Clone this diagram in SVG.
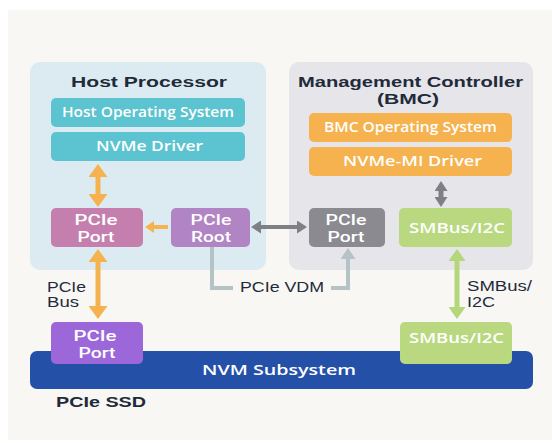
<svg xmlns="http://www.w3.org/2000/svg" width="552" height="443" viewBox="0 0 552 443">
  <defs>
    <style>
      text { font-family: "Liberation Sans", Arial, sans-serif; }
      .title { font-size: 14.5px; font-weight: bold; fill: #1f2b3a; }
      .lbl { font-family: "Open Sans", "Liberation Sans", Arial, sans-serif; font-size: 13.5px; font-weight: 600; fill: #ffffff; }
      .plbl { font-family: Roboto, "Liberation Sans", Arial, sans-serif; font-size: 14.5px; font-weight: 500; fill: #ffffff; }
      .note { font-size: 14px; fill: #1f2b3a; }
      .panel { rx: 10px; }
      .box { rx: 5px; }
    </style>
    <marker id="hOrange" viewBox="0 0 13 19" markerWidth="13" markerHeight="19" refX="2" refY="9.5" markerUnits="userSpaceOnUse" orient="auto-start-reverse">
      <path d="M0,0 L13,9.5 L0,19 z" fill="#f5b24e"/>
    </marker>
    <marker id="hOrangeS" viewBox="0 0 9 12" markerWidth="9" markerHeight="12" refX="2" refY="6" markerUnits="userSpaceOnUse" orient="auto-start-reverse">
      <path d="M0,0 L9,6 L0,12 z" fill="#f5b24e"/>
    </marker>
    <marker id="hGray" viewBox="0 0 10 13" markerWidth="10" markerHeight="13" refX="2" refY="6.5" markerUnits="userSpaceOnUse" orient="auto-start-reverse">
      <path d="M0,0 L10,6.5 L0,13 z" fill="#7f7f86"/>
    </marker>
    <marker id="hVdm" viewBox="0 0 11 15" markerWidth="11" markerHeight="15" refX="2" refY="7.5" markerUnits="userSpaceOnUse" orient="auto">
      <path d="M0,0 L11,7.5 L0,15 z" fill="#b5c2c6"/>
    </marker>
    <marker id="hGreen" viewBox="0 0 12 17" markerWidth="12" markerHeight="17" refX="2" refY="8.5" markerUnits="userSpaceOnUse" orient="auto-start-reverse">
      <path d="M0,0 L12,8.5 L0,17 z" fill="#b3d77a"/>
    </marker>
  </defs>

  <!-- canvas -->
  <rect x="0" y="0" width="552" height="443" fill="#ffffff"/>
  <rect x="8" y="10" width="544" height="430" fill="#f8f7f3"/>

  <!-- host processor panel -->
  <g id="host-processor">
    <rect class="panel" x="30" y="62" width="236" height="208" fill="#dcebf2"/>
    <text class="title" x="149" y="87" text-anchor="middle" textLength="156" lengthAdjust="spacingAndGlyphs">Host Processor</text>
  </g>

  <!-- management controller panel -->
  <g id="management-controller">
    <rect class="panel" x="289" y="62" width="244" height="208" fill="#e5e5ea"/>
    <text class="title" x="410.5" y="87" text-anchor="middle" textLength="225" lengthAdjust="spacingAndGlyphs">Management Controller</text>
    <text class="title" x="408" y="104" text-anchor="middle" textLength="62" lengthAdjust="spacingAndGlyphs">(BMC)</text>
  </g>

  <g id="host-os">
    <rect class="box" x="51" y="98" width="194" height="29" fill="#5cc3d0"/>
    <text class="lbl" x="148" y="117" text-anchor="middle" textLength="172" lengthAdjust="spacingAndGlyphs">Host Operating System</text>
  </g>
  <g id="nvme-driver">
    <rect class="box" x="51" y="132" width="194" height="29" fill="#5cc3d0"/>
    <text class="lbl" x="149.5" y="151" text-anchor="middle" textLength="107" lengthAdjust="spacingAndGlyphs">NVMe Driver</text>
  </g>

  <g id="bmc-os">
    <rect class="box" x="309" y="113" width="203" height="29" fill="#f5b24e"/>
    <text class="lbl" x="410.5" y="132" text-anchor="middle" textLength="173" lengthAdjust="spacingAndGlyphs">BMC Operating System</text>
  </g>
  <g id="nvme-mi-driver">
    <rect class="box" x="309" y="147" width="203" height="29" fill="#f5b24e"/>
    <text class="lbl" x="412.5" y="166" text-anchor="middle" textLength="139" lengthAdjust="spacingAndGlyphs">NVMe-MI Driver</text>
  </g>

  <g id="host-pcie-port">
    <rect class="box" x="51" y="208" width="92" height="39" fill="#c47fae"/>
    <text class="plbl" x="96" y="225" text-anchor="middle" textLength="43" lengthAdjust="spacingAndGlyphs">PCIe</text>
    <text class="plbl" x="96" y="242" text-anchor="middle" textLength="37" lengthAdjust="spacingAndGlyphs">Port</text>
  </g>
  <g id="pcie-root">
    <rect class="box" x="171" y="208" width="79" height="39" fill="#b184c4"/>
    <text class="plbl" x="211" y="225" text-anchor="middle" textLength="41" lengthAdjust="spacingAndGlyphs">PCIe</text>
    <text class="plbl" x="211" y="242" text-anchor="middle" textLength="40" lengthAdjust="spacingAndGlyphs">Root</text>
  </g>
  <g id="bmc-pcie-port">
    <rect class="box" x="309" y="208" width="76" height="39" fill="#8b8a91"/>
    <text class="plbl" x="346" y="225" text-anchor="middle" textLength="41" lengthAdjust="spacingAndGlyphs">PCIe</text>
    <text class="plbl" x="346" y="242" text-anchor="middle" textLength="37" lengthAdjust="spacingAndGlyphs">Port</text>
  </g>
  <g id="bmc-smbus">
    <rect class="box" x="399" y="208" width="113" height="39" fill="#b9d87f"/>
    <text class="lbl" x="457" y="233" text-anchor="middle" textLength="96" lengthAdjust="spacingAndGlyphs">SMBus/I2C</text>
  </g>

  <!-- PCIe SSD -->
  <g id="nvm-subsystem">
    <rect x="30" y="351" width="503" height="38" rx="7" fill="#2450a8"/>
    <text class="lbl" x="279" y="375" text-anchor="middle" style="font-size:15px" textLength="154" lengthAdjust="spacingAndGlyphs">NVM Subsystem</text>
  </g>
  <g id="ssd-pcie-port">
    <rect class="box" x="51" y="322" width="92" height="42" fill="#9c67d9"/>
    <text class="plbl" x="95" y="341" text-anchor="middle" textLength="43" lengthAdjust="spacingAndGlyphs">PCIe</text>
    <text class="plbl" x="97" y="358" text-anchor="middle" textLength="37" lengthAdjust="spacingAndGlyphs">Port</text>
  </g>
  <g id="ssd-smbus">
    <rect class="box" x="400" y="322" width="112" height="42" fill="#b9d87f"/>
    <text class="lbl" x="456.5" y="343" text-anchor="middle" textLength="95" lengthAdjust="spacingAndGlyphs">SMBus/I2C</text>
  </g>
  <g id="ssd-label">
    <text class="title" x="56" y="407" textLength="90" lengthAdjust="spacingAndGlyphs">PCIe SSD</text>
  </g>

  <!-- connectors -->
  <g id="connectors" fill="none">
    <line x1="98" y1="175" x2="98" y2="196" stroke="#f5b24e" stroke-width="5" marker-start="url(#hOrange)" marker-end="url(#hOrange)"/>
    <line x1="168" y1="227" x2="152" y2="227" stroke="#f5b24e" stroke-width="4" marker-end="url(#hOrangeS)"/>
    <line x1="259" y1="227" x2="299" y2="227" stroke="#7f7f86" stroke-width="4" marker-start="url(#hGray)" marker-end="url(#hGray)"/>
    <line x1="441" y1="189" x2="441" y2="199" stroke="#7f7f86" stroke-width="5" marker-start="url(#hGray)" marker-end="url(#hGray)"/>
    <line x1="98" y1="260" x2="98" y2="308" stroke="#f5b24e" stroke-width="5" marker-start="url(#hOrange)" marker-end="url(#hOrange)"/>
    <line x1="457" y1="259" x2="457" y2="309" stroke="#b3d77a" stroke-width="5" marker-start="url(#hGreen)" marker-end="url(#hGreen)"/>
    <path d="M212,247 V288 H233" stroke="#b5c2c6" stroke-width="4"/>
    <path d="M331,288 H348 V257" stroke="#b5c2c6" stroke-width="4" marker-end="url(#hVdm)"/>
    <text class="note" x="240" y="292" fill="#1f2b3a" textLength="84" lengthAdjust="spacingAndGlyphs">PCIe VDM</text>
    <text class="note" x="47" y="292" fill="#1f2b3a" textLength="39" lengthAdjust="spacingAndGlyphs">PCIe</text>
    <text class="note" x="47" y="307" fill="#1f2b3a" textLength="32" lengthAdjust="spacingAndGlyphs">Bus</text>
    <text class="note" x="467" y="291" fill="#1f2b3a" textLength="65" lengthAdjust="spacingAndGlyphs">SMBus/</text>
    <text class="note" x="467" y="307" fill="#1f2b3a" textLength="28" lengthAdjust="spacingAndGlyphs">I2C</text>
  </g>
</svg>
